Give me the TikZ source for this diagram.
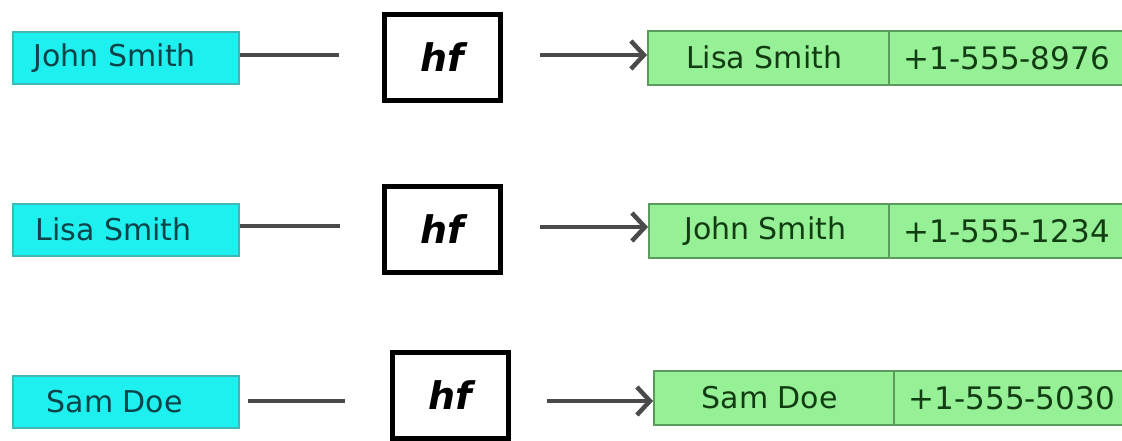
\documentclass[tikz,border=0pt]{standalone}
\usepackage{fontspec}
\setmainfont{DejaVu Sans}
\usetikzlibrary{arrows.meta}
\definecolor{cyanfill}{HTML}{1EF0F0}
\definecolor{cyanline}{HTML}{3FB8B8}
\definecolor{cyantext}{HTML}{0C4348}
\definecolor{greenfill}{HTML}{96F096}
\definecolor{greenline}{HTML}{5A9A5A}
\definecolor{greentext}{HTML}{123C12}
\definecolor{linegray}{HTML}{4A4A4A}
\tikzset{
  keybox/.style={draw=cyanline, line width=1.5pt, fill=cyanfill, text=cyantext,
    minimum width=226pt, minimum height=52pt, inner sep=0pt, anchor=north west,
    font=\fontsize{30}{32}\selectfont},
  hashbox/.style={draw=black, line width=5pt, fill=white, minimum width=116pt,
    minimum height=86pt, inner sep=0pt, anchor=north west,
    font=\fontsize{38}{40}\selectfont\bfseries\itshape},
  namecell/.style={draw=greenline, line width=1.5pt, fill=greenfill, text=greentext,
    minimum width=241pt, minimum height=54pt, inner sep=0pt, anchor=north west,
    font=\fontsize{30}{32}\selectfont},
  phonecell/.style={draw=greenline, line width=1.5pt, fill=greenfill, text=greentext,
    minimum width=236pt, minimum height=54pt, inner sep=0pt, anchor=north west,
    font=\fontsize{31}{32}\selectfont},
  link/.style={draw=linegray, line width=4.5pt},
  arrowlink/.style={draw=linegray, line width=4.5pt,
    -{Straight Barb[length=13pt,width=28pt,line width=4.5pt]}},
}
\begin{document}
\begin{tikzpicture}[x=1pt,y=-1pt]
\useasboundingbox (0,0) rectangle (1122,440);
% row 1
\node[keybox] (k1) at (12,31) {\hspace*{-22pt}John Smith};
\node[hashbox] (h1) at (382,12) {hf};
\node[namecell] (n1) at (647,30) {\hspace*{-8pt}Lisa Smith};
\node[phonecell] (p1) at (888,30) {+1-555-8976};
% row 2
\node[keybox] (k2) at (12,203) {\hspace*{-24pt}Lisa Smith};
\node[hashbox] (h2) at (382,184) {hf};
\node[namecell] (n2) at (648,203) {\hspace*{-8pt}John Smith};
\node[phonecell] (p2) at (888,203) {+1-555-1234};
% row 3
\node[keybox] (k3) at (12,375) {\hspace*{-22pt}Sam Doe};
\node[hashbox] (h3) at (390,350) {hf};
\node[namecell, minimum width=240pt] (n3) at (653,370) {\hspace*{-8pt}Sam Doe};
\node[phonecell] (p3) at (893,370) {+1-555-5030};
% connectors
\coordinate (e1) at (339,55);
\coordinate (e2) at (340,226);
\coordinate (e3) at (345,401);
\coordinate (s1) at (540,55);
\coordinate (s2) at (540,227);
\coordinate (s3) at (547,401);
\draw[link] (k1.east |- e1) -- (e1);
\draw[link] (k2.east |- e2) -- (e2);
\draw[link] ([xshift=8pt]k3.east |- e3) -- (e3);
\draw[arrowlink] (s1) -- (n1.west |- s1);
\draw[arrowlink] (s2) -- (n2.west |- s2);
\draw[arrowlink] (s3) -- (n3.west |- s3);
\end{tikzpicture}
\end{document}
